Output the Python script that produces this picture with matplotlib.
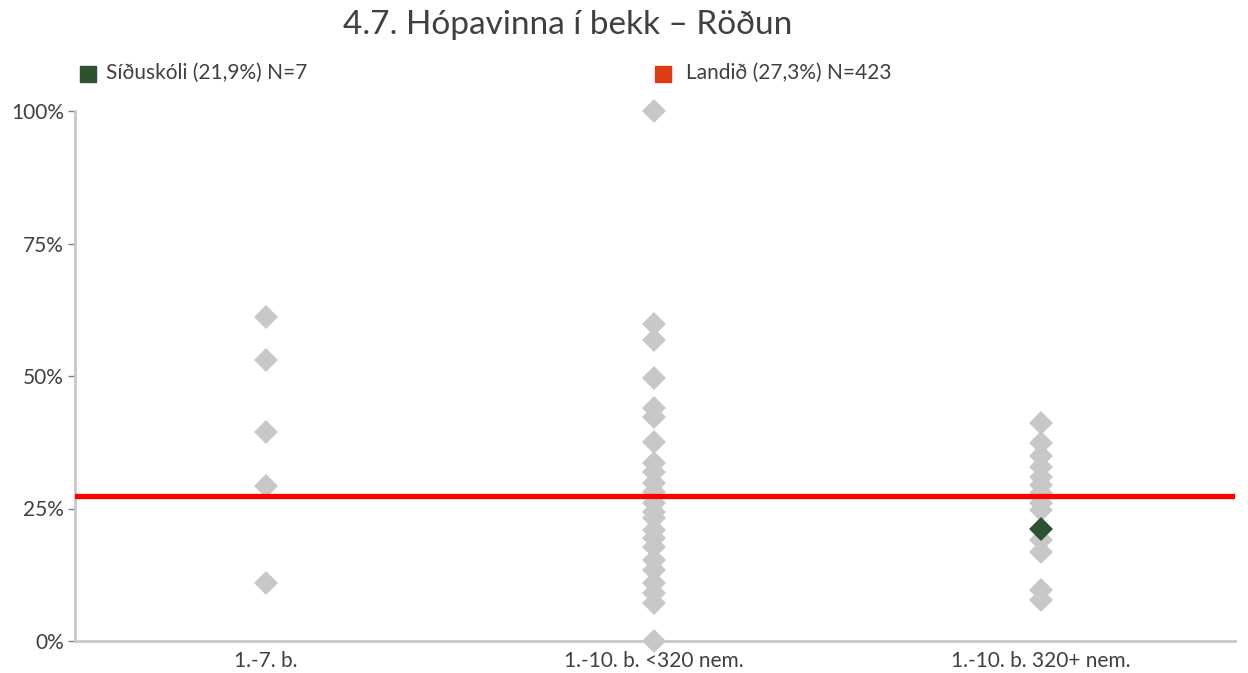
import numpy as np
import matplotlib
matplotlib.use("Agg")
import matplotlib.pyplot as plt
from matplotlib.ticker import FuncFormatter

plt.rcParams['font.family'] = ['Lato', 'DejaVu Sans']

title = "4.7. Hópavinna í bekk – Röðun"
categories = ["1.-7. b.", "1.-10. b. <320 nem.", "1.-10. b. 320+ nem."]

# school values per category (share, %)
vals_small = [61.2, 53.1, 39.5, 29.2, 10.9]
vals_mid = [100.0, 59.9, 56.7, 49.7, 43.9, 42.2, 37.5, 33.5, 31.8, 29.9, 28.1,
            26.0, 24.3, 23.2, 20.9, 19.4, 17.7, 15.3, 13.4, 10.9, 9.0, 7.2, 0.0]
vals_large = [41.2, 37.3, 35.0, 32.8, 30.9, 29.4, 27.9, 26.0, 24.7, 19.0, 16.8, 9.6, 7.7]

school_label = "Síðuskóli (21,9%) N=7"
school_cat = 2
school_val = 21.1
nat_label = "Landið (27,3%) N=423"
nat_val = 27.3

yticks = [0, 25, 50, 75, 100]

fig = plt.figure(figsize=(12.48, 6.73), dpi=100)
ax = fig.add_axes([75 / 1248, 32 / 673, 1160 / 1248, 530 / 673])

gray = "#C8C8C8"
txt = "#404040"
for i, vals in enumerate([vals_small, vals_mid, vals_large]):
    ax.plot(np.full(len(vals), i), vals, linestyle="none", marker="D",
            markersize=12, color=gray, markeredgewidth=0, clip_on=False, zorder=2)

ax.axhline(nat_val, color="#FF0000", lw=3.8, zorder=3)
ax.plot([school_cat], [school_val], linestyle="none", marker="D", markersize=12,
        color="#2E5230", markeredgewidth=0, zorder=4)

ax.set_xlim(-0.493, 2.5)
ax.set_ylim(0, 100)
ax.set_xticks(range(len(categories)))
ax.set_xticklabels(categories)
ax.set_yticks(yticks)
ax.yaxis.set_major_formatter(FuncFormatter(lambda v, p: f"{int(v)}%"))
ax.tick_params(axis="x", length=0, pad=7, labelsize=15, labelcolor=txt)
ax.tick_params(axis="y", length=5, width=1, color="#808080", pad=3,
               labelsize=15, labelcolor=txt)
for s in ["top", "right"]:
    ax.spines[s].set_visible(False)
for s in ["left", "bottom"]:
    ax.spines[s].set_color(gray)
    ax.spines[s].set_linewidth(2)

fig.text(568 / 1248, 1 - 25 / 673, title, ha="center", va="center",
         fontsize=24, color=txt)

fig.patches.append(plt.Rectangle((80 / 1248, 1 - 82 / 673), 16 / 1248, 16 / 673,
                                 transform=fig.transFigure, color="#2E5230"))
fig.text(106 / 1248, 1 - 73 / 673, school_label, ha="left", va="center",
         fontsize=15, color=txt)
fig.patches.append(plt.Rectangle((655 / 1248, 1 - 82 / 673), 16 / 1248, 16 / 673,
                                 transform=fig.transFigure, color="#E03C14"))
fig.text(686 / 1248, 1 - 73 / 673, nat_label, ha="left", va="center",
         fontsize=15, color=txt)

fig.savefig("out.png", dpi=100)
